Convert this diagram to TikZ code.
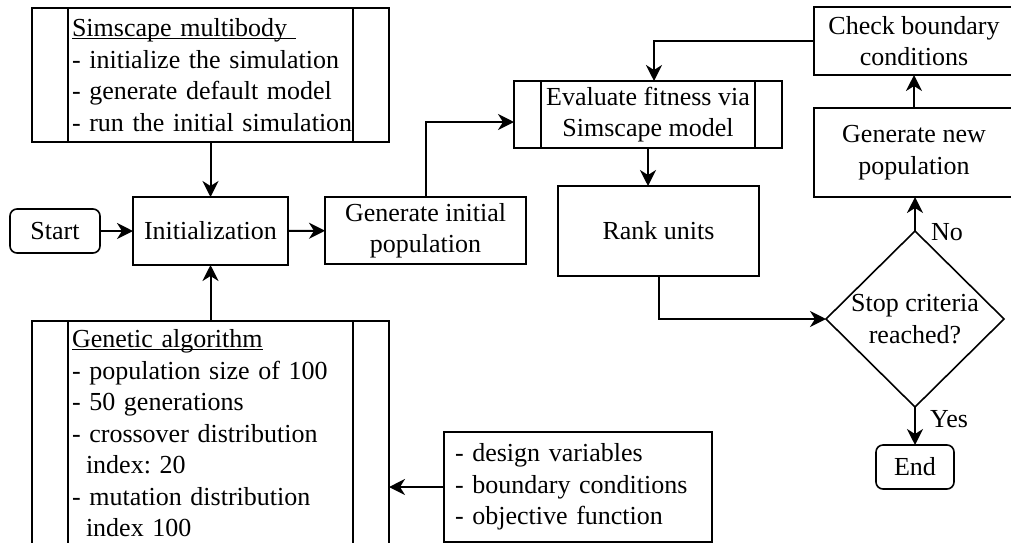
\documentclass[tikz,border=0pt]{standalone}
\usepackage{fontspec}
\setmainfont{Liberation Serif}
\usetikzlibrary{shapes.geometric,arrows.meta,calc}
\frenchspacing
\newcommand\ulbox[1]{\setbox0\hbox{#1}\rlap{\rule[-2.5pt]{\wd0}{1.2pt}}\box0}
\begin{document}
\begin{tikzpicture}[x=1pt,y=-1pt,
  font=\fontsize{26}{31.5}\selectfont,
  box/.style={draw,line width=1.6pt,inner sep=0pt,outer sep=0pt,align=center},
  rbox/.style={box,rounded corners=7pt},
  arr/.style={line width=2pt,-{Stealth[length=16pt,width=16pt,inset=5pt]}},
  stripe/.style={line width=1.6pt}]
\useasboundingbox (0,0) rectangle (1011,542);
\clip (0,0) rectangle (1011,542);

% nodes
\node[box,minimum width=357pt,minimum height=134pt,align=left,text width=277pt] (sim) at (210.5,75)
  {\ulbox{Simscape multibody\ }\\\mbox{- initialize the simulation}\\\mbox{- generate default model}\\\mbox{- run the initial simulation}};
\node[rbox,minimum width=90pt,minimum height=44pt] (start) at (55,231) {Start};
\node[box,minimum width=155pt,minimum height=68pt] (init) at (210.5,231) {Initialization};
\node[box,minimum width=201pt,minimum height=67pt] (geninit) at (425.5,230.5) {Generate initial\\population};
\node[box,minimum width=268pt,minimum height=67pt] (eval) at (648,114.5) {Evaluate fitness via\\Simscape model};
\node[box,minimum width=201pt,minimum height=90pt] (rank) at (658.5,231) {Rank units};
\node[box,minimum width=200pt,minimum height=68pt] (check) at (914,41) {Check boundary\\conditions};
\node[box,minimum width=200pt,minimum height=89pt] (gennew) at (914,152.5) {Generate new\\population};
\node[draw,diamond,line width=1.6pt,minimum width=178pt,minimum height=176pt,inner sep=0pt,outer sep=0pt,
  label={[align=center]center:{Stop criteria\\reached?}}] (stop) at (915,319) {};
\node[rbox,minimum width=78pt,minimum height=44pt] (end) at (915,467) {End};
\node[box,minimum width=357pt,minimum height=225pt,align=left,text width=277pt] (ga) at (210.5,433.5)
  {\ulbox{Genetic algorithm}\\\mbox{- population size of 100}\\\mbox{- 50 generations}\\\mbox{- crossover distribution}\\\hspace*{14pt}index:\ 20\\\mbox{- mutation distribution}\\\hspace*{14pt}index 100};
\node[box,minimum width=268pt,minimum height=110pt,align=left,text width=246pt] (design) at (578,487)
  {\mbox{- design variables}\\\mbox{- boundary conditions}\\\mbox{- objective function}};
\node (no) at (947,232) {No};
\node (yes) at (949,419) {Yes};

% stripes of predefined-process boxes
\draw[stripe] ([xshift=36pt]sim.north west) -- ([xshift=36pt]sim.south west);
\draw[stripe] ([xshift=-36pt]sim.north east) -- ([xshift=-36pt]sim.south east);
\draw[stripe] ([xshift=36pt]ga.north west) -- ([xshift=36pt]ga.south west);
\draw[stripe] ([xshift=-36pt]ga.north east) -- ([xshift=-36pt]ga.south east);
\draw[stripe] ([xshift=27pt]eval.north west) -- ([xshift=27pt]eval.south west);
\draw[stripe] ([xshift=-27pt]eval.north east) -- ([xshift=-27pt]eval.south east);

% connectors
\draw[arr] (start) -- (init);
\draw[arr] (init) -- (geninit);
\draw[arr] (sim) -- (init);
\draw[arr] (ga) -- (init);
\draw[arr] (design.west) -- (design.west -| ga.east);
\draw[arr] (geninit.north) |- ([yshift=-7.5pt]eval.west);
\draw[arr] (check.west) -| ([xshift=6pt]eval.north);
\draw[arr] (eval.south) -- (eval.south |- rank.north);
\draw[arr] (rank.south) |- (stop.west);
\draw[arr] (stop.north) -- (stop.north |- gennew.south);
\draw[arr] (gennew.north) -- (gennew.north |- check.south);
\draw[arr] (stop.south) -- (end.north);
\end{tikzpicture}
\end{document}
